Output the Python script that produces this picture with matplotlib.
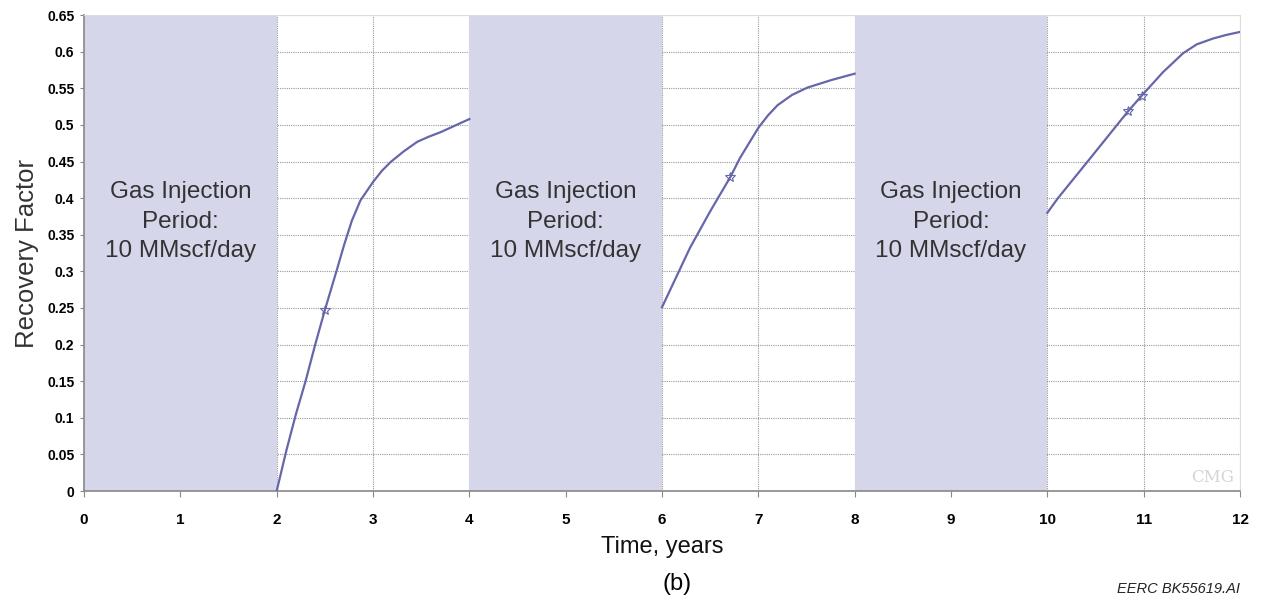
import numpy as np
import matplotlib.pyplot as plt

# recovery factor curves, one per production period
t1 = [2.0, 2.10, 2.20, 2.30, 2.40, 2.50, 2.62, 2.70, 2.78, 2.87, 3.0, 3.09, 3.18, 3.32, 3.46, 3.58, 3.70, 3.85, 4.0]
rf1 = [0.0, 0.055, 0.105, 0.150, 0.200, 0.247, 0.300, 0.336, 0.369, 0.397, 0.422, 0.437, 0.449, 0.464, 0.477, 0.484, 0.490, 0.499, 0.508]
t2 = [6.0, 6.29, 6.50, 6.71, 6.81, 7.0, 7.10, 7.20, 7.35, 7.51, 7.75, 8.0]
rf2 = [0.251, 0.332, 0.382, 0.429, 0.455, 0.496, 0.513, 0.527, 0.541, 0.551, 0.561, 0.570]
t3 = [10.0, 10.11, 10.43, 10.84, 10.98, 11.20, 11.41, 11.55, 11.72, 11.86, 12.0]
rf3 = [0.380, 0.400, 0.452, 0.519, 0.540, 0.572, 0.598, 0.610, 0.618, 0.623, 0.627]

star_t = [2.50, 6.71, 10.84, 10.98]
star_rf = [0.247, 0.429, 0.519, 0.540]

inj_periods = [(0, 2), (4, 6), (8, 10)]
inj_label = "Gas Injection\nPeriod:\n10 MMscf/day"

plt.rcParams['font.family'] = ['Liberation Sans', 'DejaVu Sans']

fig = plt.figure(figsize=(12.63, 6.04), dpi=100)
ax = fig.add_axes([0.0665, 0.187, 0.9153, 0.788])

line_col = '#6666aa'
shade_col = '#d6d6eb'

ax.set_axisbelow(True)
ax.grid(True, color='#999999', linestyle=(0, (1, 1)), linewidth=0.8)

for a, b in inj_periods:
    ax.axvspan(a, b, color=shade_col, zorder=1, lw=0)
    ax.text((a + b) / 2, 0.368, inj_label, ha='center', va='center',
            fontsize=17.5, color='#333333', linespacing=1.42, zorder=3)

for t, rf in [(t1, rf1), (t2, rf2), (t3, rf3)]:
    ax.plot(t, rf, color=line_col, lw=1.6, zorder=4)
ax.plot(star_t, star_rf, ls='none', marker='*', ms=7, mfc='none',
        mec=line_col, mew=0.8, zorder=5)

ax.set_xlim(0, 12)
ax.set_ylim(0, 0.65)
ax.set_xticks(range(13))
ax.set_yticks(np.arange(0, 0.651, 0.05))
ax.set_yticklabels(['%g' % round(v, 2) for v in np.arange(0, 0.651, 0.05)])
for lab in ax.get_xticklabels() + ax.get_yticklabels():
    lab.set_fontweight('bold')
ax.tick_params(axis='x', labelsize=11, length=4, color='#888888', pad=12)
ax.tick_params(axis='y', labelsize=10, length=3, color='#888888', pad=4)

for s in ['top', 'right']:
    ax.spines[s].set_color('#dddddd')
for s in ['left', 'bottom']:
    ax.spines[s].set_color('#888888')
    ax.spines[s].set_linewidth(1.2)

ax.set_ylabel('Recovery Factor', fontsize=18.5, color='#333333', labelpad=6)
ax.set_xlabel('Time, years', fontsize=17, color='#111111', labelpad=6)

ax.text(11.72, 0.018, 'CMG', fontsize=12, color='#d4d4d4', ha='center',
        va='center', family='serif', zorder=3)

fig.text(0.536, 0.033, '(b)', fontsize=17, ha='center', va='center')
fig.text(0.982, 0.025, 'EERC BK55619.AI', fontsize=10.5, style='italic',
         ha='right', va='center', color='#222222')

fig.savefig('out.png', dpi=100)
